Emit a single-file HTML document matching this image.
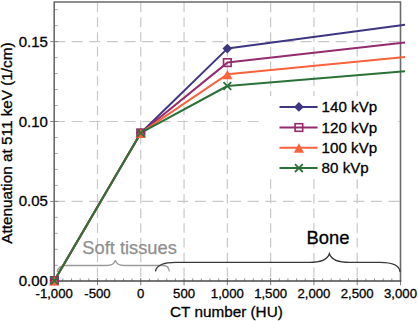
<!DOCTYPE html><html><head><meta charset="utf-8"><style>html,body{margin:0;padding:0;background:#fff;}svg{display:block;}text{font-family:"Liberation Sans",sans-serif;} .k{fill:#000;stroke:#000;stroke-width:0.3px;} .g{fill:#8f8f8f;stroke:#8f8f8f;stroke-width:0.25px;}</style></head><body>
<svg width="418" height="321" viewBox="0 0 418 321">
<rect width="418" height="321" fill="#fff"/>
<line x1="97.49" y1="2.8" x2="97.49" y2="281.00" stroke="#c8c8c8" stroke-width="1.2" stroke-dasharray="9.5 5.2"/>
<line x1="140.78" y1="2.8" x2="140.78" y2="281.00" stroke="#c8c8c8" stroke-width="1.2" stroke-dasharray="9.5 5.2"/>
<line x1="184.06" y1="2.8" x2="184.06" y2="281.00" stroke="#c8c8c8" stroke-width="1.2" stroke-dasharray="9.5 5.2"/>
<line x1="227.35" y1="2.8" x2="227.35" y2="281.00" stroke="#c8c8c8" stroke-width="1.2" stroke-dasharray="9.5 5.2"/>
<line x1="270.64" y1="2.8" x2="270.64" y2="281.00" stroke="#c8c8c8" stroke-width="1.2" stroke-dasharray="9.5 5.2"/>
<line x1="313.93" y1="2.8" x2="313.93" y2="281.00" stroke="#c8c8c8" stroke-width="1.2" stroke-dasharray="9.5 5.2"/>
<line x1="357.21" y1="2.8" x2="357.21" y2="281.00" stroke="#c8c8c8" stroke-width="1.2" stroke-dasharray="9.5 5.2"/>
<line x1="54.1" y1="201.40" x2="400.50" y2="201.40" stroke="#c8c8c8" stroke-width="1.2" stroke-dasharray="11 6.6"/>
<line x1="54.1" y1="121.50" x2="400.50" y2="121.50" stroke="#c8c8c8" stroke-width="1.2" stroke-dasharray="11 6.6"/>
<line x1="54.1" y1="41.60" x2="400.50" y2="41.60" stroke="#c8c8c8" stroke-width="1.2" stroke-dasharray="11 6.6"/>
<line x1="54.20" y1="265.32" x2="57.80" y2="265.32" stroke="#a8a8a8" stroke-width="1"/>
<line x1="54.20" y1="249.34" x2="57.80" y2="249.34" stroke="#a8a8a8" stroke-width="1"/>
<line x1="54.20" y1="233.36" x2="57.80" y2="233.36" stroke="#a8a8a8" stroke-width="1"/>
<line x1="54.20" y1="217.38" x2="57.80" y2="217.38" stroke="#a8a8a8" stroke-width="1"/>
<line x1="54.20" y1="185.42" x2="57.80" y2="185.42" stroke="#a8a8a8" stroke-width="1"/>
<line x1="54.20" y1="169.44" x2="57.80" y2="169.44" stroke="#a8a8a8" stroke-width="1"/>
<line x1="54.20" y1="153.46" x2="57.80" y2="153.46" stroke="#a8a8a8" stroke-width="1"/>
<line x1="54.20" y1="137.48" x2="57.80" y2="137.48" stroke="#a8a8a8" stroke-width="1"/>
<line x1="54.20" y1="105.52" x2="57.80" y2="105.52" stroke="#a8a8a8" stroke-width="1"/>
<line x1="54.20" y1="89.54" x2="57.80" y2="89.54" stroke="#a8a8a8" stroke-width="1"/>
<line x1="54.20" y1="73.56" x2="57.80" y2="73.56" stroke="#a8a8a8" stroke-width="1"/>
<line x1="54.20" y1="57.58" x2="57.80" y2="57.58" stroke="#a8a8a8" stroke-width="1"/>
<line x1="54.20" y1="25.62" x2="57.80" y2="25.62" stroke="#a8a8a8" stroke-width="1"/>
<line x1="54.20" y1="9.64" x2="57.80" y2="9.64" stroke="#a8a8a8" stroke-width="1"/>
<line x1="62.86" y1="278.40" x2="62.86" y2="281.00" stroke="#909090" stroke-width="1"/>
<line x1="71.52" y1="278.40" x2="71.52" y2="281.00" stroke="#909090" stroke-width="1"/>
<line x1="80.17" y1="278.40" x2="80.17" y2="281.00" stroke="#909090" stroke-width="1"/>
<line x1="88.83" y1="278.40" x2="88.83" y2="281.00" stroke="#909090" stroke-width="1"/>
<line x1="106.15" y1="278.40" x2="106.15" y2="281.00" stroke="#909090" stroke-width="1"/>
<line x1="114.80" y1="278.40" x2="114.80" y2="281.00" stroke="#909090" stroke-width="1"/>
<line x1="123.46" y1="278.40" x2="123.46" y2="281.00" stroke="#909090" stroke-width="1"/>
<line x1="132.12" y1="278.40" x2="132.12" y2="281.00" stroke="#909090" stroke-width="1"/>
<line x1="149.43" y1="278.40" x2="149.43" y2="281.00" stroke="#909090" stroke-width="1"/>
<line x1="158.09" y1="278.40" x2="158.09" y2="281.00" stroke="#909090" stroke-width="1"/>
<line x1="166.75" y1="278.40" x2="166.75" y2="281.00" stroke="#909090" stroke-width="1"/>
<line x1="175.41" y1="278.40" x2="175.41" y2="281.00" stroke="#909090" stroke-width="1"/>
<line x1="192.72" y1="278.40" x2="192.72" y2="281.00" stroke="#909090" stroke-width="1"/>
<line x1="201.38" y1="278.40" x2="201.38" y2="281.00" stroke="#909090" stroke-width="1"/>
<line x1="210.04" y1="278.40" x2="210.04" y2="281.00" stroke="#909090" stroke-width="1"/>
<line x1="218.69" y1="278.40" x2="218.69" y2="281.00" stroke="#909090" stroke-width="1"/>
<line x1="236.01" y1="278.40" x2="236.01" y2="281.00" stroke="#909090" stroke-width="1"/>
<line x1="244.67" y1="278.40" x2="244.67" y2="281.00" stroke="#909090" stroke-width="1"/>
<line x1="253.32" y1="278.40" x2="253.32" y2="281.00" stroke="#909090" stroke-width="1"/>
<line x1="261.98" y1="278.40" x2="261.98" y2="281.00" stroke="#909090" stroke-width="1"/>
<line x1="279.30" y1="278.40" x2="279.30" y2="281.00" stroke="#909090" stroke-width="1"/>
<line x1="287.95" y1="278.40" x2="287.95" y2="281.00" stroke="#909090" stroke-width="1"/>
<line x1="296.61" y1="278.40" x2="296.61" y2="281.00" stroke="#909090" stroke-width="1"/>
<line x1="305.27" y1="278.40" x2="305.27" y2="281.00" stroke="#909090" stroke-width="1"/>
<line x1="322.58" y1="278.40" x2="322.58" y2="281.00" stroke="#909090" stroke-width="1"/>
<line x1="331.24" y1="278.40" x2="331.24" y2="281.00" stroke="#909090" stroke-width="1"/>
<line x1="339.90" y1="278.40" x2="339.90" y2="281.00" stroke="#909090" stroke-width="1"/>
<line x1="348.56" y1="278.40" x2="348.56" y2="281.00" stroke="#909090" stroke-width="1"/>
<line x1="365.87" y1="278.40" x2="365.87" y2="281.00" stroke="#909090" stroke-width="1"/>
<line x1="374.53" y1="278.40" x2="374.53" y2="281.00" stroke="#909090" stroke-width="1"/>
<line x1="383.19" y1="278.40" x2="383.19" y2="281.00" stroke="#909090" stroke-width="1"/>
<line x1="391.84" y1="278.40" x2="391.84" y2="281.00" stroke="#909090" stroke-width="1"/>
<line x1="50.20" y1="281.00" x2="58.20" y2="281.00" stroke="#8a8a8a" stroke-width="1"/>
<line x1="50.20" y1="201.40" x2="58.20" y2="201.40" stroke="#8a8a8a" stroke-width="1"/>
<line x1="50.20" y1="121.50" x2="58.20" y2="121.50" stroke="#8a8a8a" stroke-width="1"/>
<line x1="50.20" y1="41.60" x2="58.20" y2="41.60" stroke="#8a8a8a" stroke-width="1"/>
<line x1="54.20" y1="278.00" x2="54.20" y2="285.20" stroke="#7a7a7a" stroke-width="1"/>
<line x1="97.49" y1="278.00" x2="97.49" y2="285.20" stroke="#7a7a7a" stroke-width="1"/>
<line x1="140.78" y1="278.00" x2="140.78" y2="285.20" stroke="#7a7a7a" stroke-width="1"/>
<line x1="184.06" y1="278.00" x2="184.06" y2="285.20" stroke="#7a7a7a" stroke-width="1"/>
<line x1="227.35" y1="278.00" x2="227.35" y2="285.20" stroke="#7a7a7a" stroke-width="1"/>
<line x1="270.64" y1="278.00" x2="270.64" y2="285.20" stroke="#7a7a7a" stroke-width="1"/>
<line x1="313.93" y1="278.00" x2="313.93" y2="285.20" stroke="#7a7a7a" stroke-width="1"/>
<line x1="357.21" y1="278.00" x2="357.21" y2="285.20" stroke="#7a7a7a" stroke-width="1"/>
<line x1="400.50" y1="278.00" x2="400.50" y2="285.20" stroke="#7a7a7a" stroke-width="1"/>
<path d="M54.20,281.00 V2.00 H400.50 V281.00" fill="none" stroke="#6a6a6a" stroke-width="1.6"/>
<line x1="53.40" y1="281.00" x2="401.30" y2="281.00" stroke="#4a4a4a" stroke-width="1.6"/>
<path d="M57.3,272 C58,267.5 60.5,265.5 66,265.5 L106.5,265.5 C111.5,265.5 114.6,263.5 115.4,260.1 C116.2,263.5 119.3,265.5 124.3,265.5 L163,265.5 C167,265.5 169,268 169.3,271.4" fill="none" stroke="#9a9a9a" stroke-width="1.3"/>
<path d="M155.4,271.4 C156.5,265 163,262.4 176,262.4 L309,262.4 C321,262.4 327.5,259.5 329.4,253.7 C331.3,259.5 337.8,262.4 349.8,262.4 L380,262.4 C392,262.4 399.6,265.8 400.1,272" fill="none" stroke="#3a3a3a" stroke-width="1.4"/>
<text x="82.3" y="253.7" font-size="18.3" class="g">Soft tissues</text>
<text x="306.5" y="243.6" font-size="18.4" class="k">Bone</text>
<polyline points="54.40,280.60 140.75,132.95 227.35,48.60 405,24.80" fill="none" stroke="#3e3682" stroke-width="2" stroke-linejoin="round"/>
<polyline points="54.40,280.60 140.75,132.95 227.35,62.60 405,42.40" fill="none" stroke="#932b6e" stroke-width="2" stroke-linejoin="round"/>
<polyline points="54.40,280.60 140.75,132.95 227.35,74.30 405,56.90" fill="none" stroke="#f8623c" stroke-width="2" stroke-linejoin="round"/>
<polyline points="54.40,280.60 140.75,132.95 227.35,86.00 405,71.30" fill="none" stroke="#2b7139" stroke-width="2" stroke-linejoin="round"/>
<path d="M54.40,275.70 L59.30,280.60 L54.40,285.50 L49.50,280.60Z" fill="#3e3682"/>
<path d="M140.75,128.05 L145.65,132.95 L140.75,137.85 L135.85,132.95Z" fill="#3e3682"/>
<path d="M227.35,43.70 L232.25,48.60 L227.35,53.50 L222.45,48.60Z" fill="#3e3682"/>
<rect x="50.60" y="276.80" width="7.60" height="7.60" fill="none" stroke="#932b6e" stroke-width="1.6"/>
<rect x="136.95" y="129.15" width="7.60" height="7.60" fill="none" stroke="#932b6e" stroke-width="1.6"/>
<rect x="223.55" y="58.80" width="7.60" height="7.60" fill="none" stroke="#932b6e" stroke-width="1.6"/>
<path d="M54.40,276.20 L59.50,285.60 L49.30,285.60Z" fill="#f8623c"/>
<path d="M140.75,128.55 L145.85,137.95 L135.65,137.95Z" fill="#f8623c"/>
<path d="M227.35,69.90 L232.45,79.30 L222.25,79.30Z" fill="#f8623c"/>
<path d="M50.50,276.70 L58.30,284.50 M58.30,276.70 L50.50,284.50" stroke="#2b7139" stroke-width="1.8" fill="none"/>
<path d="M136.85,129.05 L144.65,136.85 M144.65,129.05 L136.85,136.85" stroke="#2b7139" stroke-width="1.8" fill="none"/>
<path d="M223.45,82.10 L231.25,89.90 M231.25,82.10 L223.45,89.90" stroke="#2b7139" stroke-width="1.8" fill="none"/>
<rect x="259" y="96" width="139" height="83" fill="#fff"/>
<line x1="279.5" y1="106.9" x2="317.6" y2="106.9" stroke="#3e3682" stroke-width="2"/>
<path d="M298.90,102.00 L303.80,106.90 L298.90,111.80 L294.00,106.90Z" fill="#3e3682"/>
<text x="321.6" y="112.2" font-size="15.15" class="k">140 kVp</text>
<line x1="279.5" y1="127.5" x2="317.6" y2="127.5" stroke="#932b6e" stroke-width="2"/>
<rect x="295.10" y="123.70" width="7.60" height="7.60" fill="none" stroke="#932b6e" stroke-width="1.6"/>
<text x="321.6" y="132.8" font-size="15.15" class="k">120 kVp</text>
<line x1="279.5" y1="147.7" x2="317.6" y2="147.7" stroke="#f8623c" stroke-width="2"/>
<path d="M298.90,143.30 L304.00,152.70 L293.80,152.70Z" fill="#f8623c"/>
<text x="321.6" y="153.0" font-size="15.15" class="k">100 kVp</text>
<line x1="279.5" y1="168.1" x2="317.6" y2="168.1" stroke="#2b7139" stroke-width="2"/>
<path d="M295.00,164.20 L302.80,172.00 M302.80,164.20 L295.00,172.00" stroke="#2b7139" stroke-width="1.8" fill="none"/>
<text x="321.6" y="173.4" font-size="15.15" class="k">80 kVp</text>
<text x="47.9" y="285.8" font-size="15" text-anchor="end" class="k">0.00</text>
<text x="47.9" y="206.3" font-size="15" text-anchor="end" class="k">0.05</text>
<text x="47.9" y="126.6" font-size="15" text-anchor="end" class="k">0.10</text>
<text x="47.9" y="47.0" font-size="15" text-anchor="end" class="k">0.15</text>
<text x="54.20" y="298.2" font-size="13.2" text-anchor="middle" class="k">-1,000</text>
<text x="97.49" y="298.2" font-size="13.2" text-anchor="middle" class="k">-500</text>
<text x="140.78" y="298.2" font-size="13.2" text-anchor="middle" class="k">0</text>
<text x="184.06" y="298.2" font-size="13.2" text-anchor="middle" class="k">500</text>
<text x="227.35" y="298.2" font-size="13.2" text-anchor="middle" class="k">1,000</text>
<text x="270.64" y="298.2" font-size="13.2" text-anchor="middle" class="k">1,500</text>
<text x="313.93" y="298.2" font-size="13.2" text-anchor="middle" class="k">2,000</text>
<text x="357.21" y="298.2" font-size="13.2" text-anchor="middle" class="k">2,500</text>
<text x="400.50" y="298.2" font-size="13.2" text-anchor="middle" class="k">3,000</text>
<text x="226.4" y="316.7" font-size="15.3" text-anchor="middle" class="k">CT number (HU)</text>
<text transform="translate(12.2,143) rotate(-90)" font-size="15.3" text-anchor="middle" class="k">Attenuation at 511 keV (1/cm)</text>
</svg></body></html>
